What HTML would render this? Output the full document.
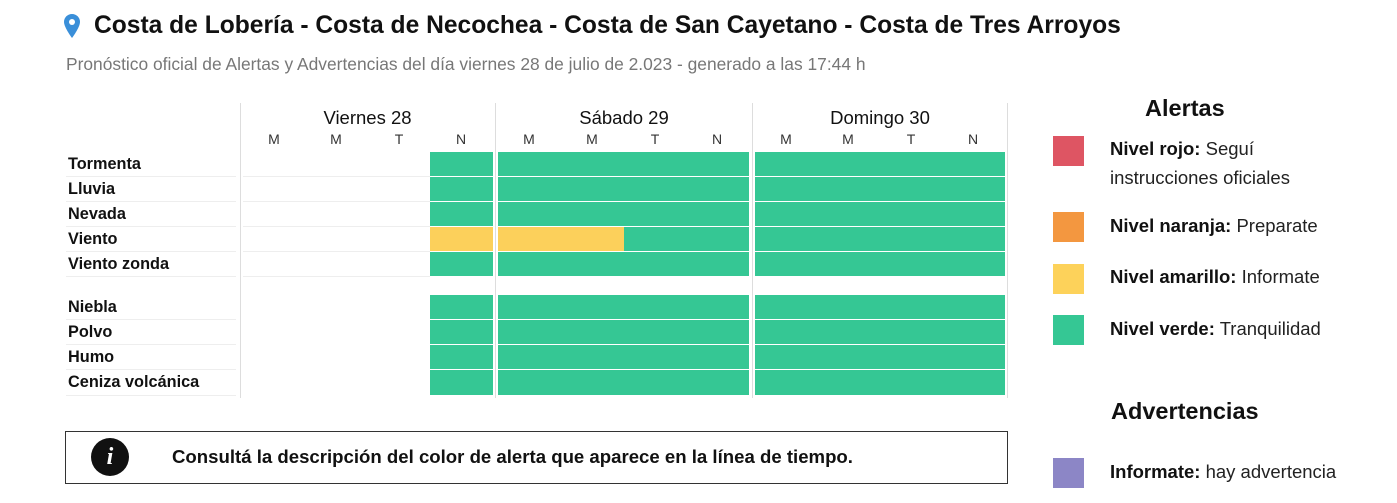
<!DOCTYPE html>
<html><head><meta charset="utf-8"><style>
body{margin:0;width:1397px;height:503px;background:#fff;font-family:"Liberation Sans",sans-serif;position:relative;overflow:hidden;color:#111}
.a{position:absolute;white-space:nowrap}
.t{font-weight:bold;font-size:24.6px;left:94px;top:12px}
.s{font-size:17.4px;color:#777;left:66px;top:54px}
.lbl{font-weight:bold;font-size:16.3px;left:68px}
.hl{position:absolute;left:66px;width:170px;height:1px;background:#eee}
.day{font-size:18.5px;text-align:center}
.sl{font-size:14px;color:#333;width:20px;text-align:center}
.g{position:absolute;background:#35c794}
.y{position:absolute;background:#fcd05b}
.vl{position:absolute;top:103px;height:295px;width:1px;background:#ddd}
.sw{position:absolute;left:1053px;width:31px;height:30px}
.lg{font-size:18.5px;left:1110px;color:#222}
.lg b{color:#111}
</style></head><body>
<svg class="a" style="left:64px;top:14px" width="16" height="24" viewBox="0 0 16 24"><path d="M8 0C3.6 0 0 3.5 0 7.9 0 13.5 8 24 8 24s8-10.5 8-16.1C16 3.5 12.4 0 8 0z" fill="#3a8fd9"/><circle cx="8" cy="8" r="3" fill="#fff"/></svg>
<div class="a t">Costa de Lobería - Costa de Necochea - Costa de San Cayetano - Costa de Tres Arroyos</div>
<div class="a s">Pronóstico oficial de Alertas y Advertencias del día viernes 28 de julio de 2.023 - generado a las 17:44 h</div>

<div class="vl" style="left:240px"></div><div class="vl" style="left:495px"></div><div class="vl" style="left:752px"></div><div class="vl" style="left:1007px"></div>
<div class="a day" style="left:240px;width:255px;top:107px">Viernes 28</div>
<div class="a day" style="left:496px;width:256px;top:107px">Sábado 29</div>
<div class="a day" style="left:753px;width:254px;top:107px">Domingo 30</div>
<div class="a sl" style="left:264px;top:131px">M</div><div class="a sl" style="left:326px;top:131px">M</div><div class="a sl" style="left:389px;top:131px">T</div><div class="a sl" style="left:451px;top:131px">N</div>
<div class="a sl" style="left:519px;top:131px">M</div><div class="a sl" style="left:582px;top:131px">M</div><div class="a sl" style="left:645px;top:131px">T</div><div class="a sl" style="left:707px;top:131px">N</div>
<div class="a sl" style="left:776px;top:131px">M</div><div class="a sl" style="left:838px;top:131px">M</div><div class="a sl" style="left:901px;top:131px">T</div><div class="a sl" style="left:963px;top:131px">N</div>

<div class="a lbl" style="top:155px">Tormenta</div>
<div class="a lbl" style="top:180px">Lluvia</div>
<div class="a lbl" style="top:205px">Nevada</div>
<div class="a lbl" style="top:230px">Viento</div>
<div class="a lbl" style="top:255px">Viento zonda</div>
<div class="a lbl" style="top:298px">Niebla</div>
<div class="a lbl" style="top:323px">Polvo</div>
<div class="a lbl" style="top:348px">Humo</div>
<div class="a lbl" style="top:373px">Ceniza volcánica</div>
<div class="hl" style="top:176px"></div><div class="hl" style="top:201px"></div><div class="hl" style="top:226px"></div><div class="hl" style="top:251px"></div><div class="hl" style="top:276px"></div><div class="hl" style="top:319px"></div><div class="hl" style="top:344px"></div><div class="hl" style="top:369px"></div><div class="hl" style="top:395px"></div>
<div style="position:absolute;left:243px;top:176px;width:187px;height:1px;background:#eee"></div>
<div style="position:absolute;left:243px;top:201px;width:187px;height:1px;background:#eee"></div>
<div style="position:absolute;left:243px;top:226px;width:187px;height:1px;background:#eee"></div>
<div style="position:absolute;left:243px;top:251px;width:187px;height:1px;background:#eee"></div>
<div style="position:absolute;left:243px;top:276px;width:187px;height:1px;background:#eee"></div>

<div class="g" style="left:430px;top:152px;width:63px;height:24px"></div><div class="g" style="left:498px;top:152px;width:251px;height:24px"></div><div class="g" style="left:755px;top:152px;width:250px;height:24px"></div>
<div class="g" style="left:430px;top:177px;width:63px;height:24px"></div><div class="g" style="left:498px;top:177px;width:251px;height:24px"></div><div class="g" style="left:755px;top:177px;width:250px;height:24px"></div>
<div class="g" style="left:430px;top:202px;width:63px;height:24px"></div><div class="g" style="left:498px;top:202px;width:251px;height:24px"></div><div class="g" style="left:755px;top:202px;width:250px;height:24px"></div>
<div class="y" style="left:430px;top:227px;width:63px;height:24px"></div><div class="y" style="left:498px;top:227px;width:126px;height:24px"></div><div class="g" style="left:624px;top:227px;width:125px;height:24px"></div><div class="g" style="left:755px;top:227px;width:250px;height:24px"></div>
<div class="g" style="left:430px;top:252px;width:63px;height:24px"></div><div class="g" style="left:498px;top:252px;width:251px;height:24px"></div><div class="g" style="left:755px;top:252px;width:250px;height:24px"></div>
<div class="g" style="left:430px;top:295px;width:63px;height:24px"></div><div class="g" style="left:498px;top:295px;width:251px;height:24px"></div><div class="g" style="left:755px;top:295px;width:250px;height:24px"></div>
<div class="g" style="left:430px;top:320px;width:63px;height:24px"></div><div class="g" style="left:498px;top:320px;width:251px;height:24px"></div><div class="g" style="left:755px;top:320px;width:250px;height:24px"></div>
<div class="g" style="left:430px;top:345px;width:63px;height:24px"></div><div class="g" style="left:498px;top:345px;width:251px;height:24px"></div><div class="g" style="left:755px;top:345px;width:250px;height:24px"></div>
<div class="g" style="left:430px;top:370px;width:63px;height:25px"></div><div class="g" style="left:498px;top:370px;width:251px;height:25px"></div><div class="g" style="left:755px;top:370px;width:250px;height:25px"></div>

<div style="position:absolute;left:65px;top:431px;width:941px;height:51px;border:1px solid #333"></div>
<div style="position:absolute;left:91px;top:438px;width:38px;height:38px;border-radius:50%;background:#111;color:#fff;font:bold italic 24px 'Liberation Serif',serif;text-align:center;line-height:38px">i</div>
<div class="a" style="left:172px;top:446px;font-weight:bold;font-size:18.6px">Consultá la descripción del color de alerta que aparece en la línea de tiempo.</div>

<div class="a" style="left:1145px;top:95px;font-weight:bold;font-size:23.5px">Alertas</div>
<div class="sw" style="top:136px;background:#de5563"></div>
<div class="sw" style="top:212px;background:#f39740"></div>
<div class="sw" style="top:264px;background:#fdd25a"></div>
<div class="sw" style="top:315px;background:#35c794"></div>
<div class="sw" style="top:458px;background:#8c86c6"></div>
<div class="a lg" style="top:138px"><b>Nivel rojo:</b> Seguí</div>
<div class="a lg" style="top:167px">instrucciones oficiales</div>
<div class="a lg" style="top:215px"><b>Nivel naranja:</b> Preparate</div>
<div class="a lg" style="top:266px"><b>Nivel amarillo:</b> Informate</div>
<div class="a lg" style="top:318px"><b>Nivel verde:</b> Tranquilidad</div>
<div class="a" style="left:1111px;top:398px;font-weight:bold;font-size:23.5px">Advertencias</div>
<div class="a lg" style="top:461px"><b>Informate:</b> hay advertencia</div>
</body></html>
